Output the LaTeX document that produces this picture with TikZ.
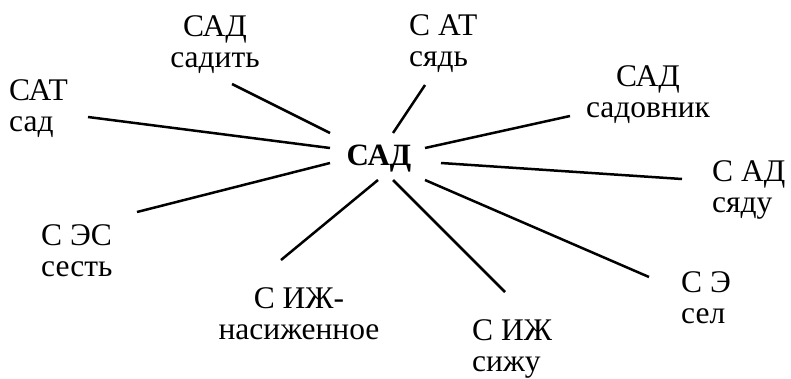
\documentclass[tikz,border=0pt]{standalone}
\usepackage{fontspec}
\setmainfont{Liberation Serif}
\tikzset{
  lbl/.style={inner sep=0pt, font=\fontsize{31.5}{31.5}\selectfont},
  hub/.style={inner sep=0pt, font=\fontsize{31}{32}\selectfont\bfseries, anchor=base},
  spoke/.style={line width=2.5pt}
}
\begin{document}
\begin{tikzpicture}[x=1pt,y=-1pt]
\useasboundingbox (0,0) rectangle (791,378);
% labels (y = first baseline - 0.7*31.5)
\node[hub] (hubnode) at (379,165) {САД};
\node[lbl, align=center, anchor=north] (sadit) at (215,14) {\strut САД\\садить};
\node[lbl, align=left, anchor=north west] (sad) at (9,78) {\strut САТ\\сад};
\node[lbl, align=left, anchor=north west] (syad) at (409,13) {\strut С АТ\\сядь};
\node[lbl, align=center, anchor=north] (sadovnik) at (648,64) {\strut САД\\садовник};
\node[lbl, align=left, anchor=north west] (syadu) at (712,159) {\strut С АД\\сяду};
\node[lbl, align=left, anchor=north west] (sest) at (41,223) {\strut С ЭС\\сесть};
\node[lbl, align=center, anchor=north] (nasizh) at (299,286) {\strut С ИЖ-\\насиженное};
\node[lbl, align=left, anchor=north west] (sizhu) at (472,318) {\strut С ИЖ\\сижу};
\node[lbl, align=left, anchor=north west] (sel) at (681,270) {\strut С Э\\сел};
% connector ends
\coordinate (h1) at (330,148); \coordinate (e1) at (88,117);
\coordinate (h2) at (330,133); \coordinate (e2) at (232,84);
\coordinate (h3) at (330,163); \coordinate (e3) at (137,212);
\coordinate (h4) at (378,180); \coordinate (e4) at (281,260);
\coordinate (h5) at (393,133); \coordinate (e5) at (425,85);
\coordinate (h6) at (425,148); \coordinate (e6) at (570,116);
\coordinate (h7) at (441,163); \coordinate (e7) at (682,179);
\coordinate (h8) at (425,180); \coordinate (e8) at (649,277);
\coordinate (h9) at (393,180); \coordinate (e9) at (505,292);
\foreach \i in {1,...,9} {\draw[spoke] (h\i) -- (e\i);}
\end{tikzpicture}
\end{document}
